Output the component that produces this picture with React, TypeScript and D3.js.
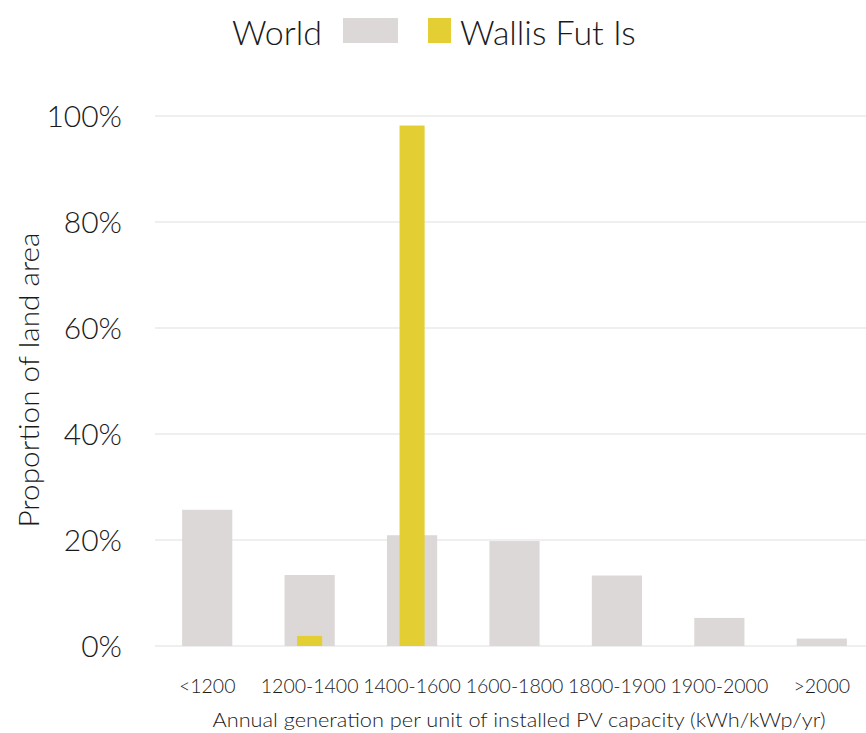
import * as d3 from "d3";
import { useEffect, useRef } from "react";

const categories = ["<1200", "1200-1400", "1400-1600", "1600-1800", "1800-1900", "1900-2000", ">2000"];
const worldValues = [25.7, 13.4, 20.9, 19.8, 13.3, 5.3, 1.4];
const wallisValues = [0, 1.9, 98.2, 0, 0, 0, 0];
const yTicks = [0, 20, 40, 60, 80, 100];

const FONT = "Lato, 'Open Sans', sans-serif";
const GREY = "#ddd8d8";
const YELLOW = "#e3cf33";
const INK = "#1a1a1a";

export default function App() {
  const ref = useRef<SVGSVGElement>(null);

  useEffect(() => {
    if (!ref.current) return;
    const svg = d3.select(ref.current);
    svg.selectAll("*").remove();

    const width = 866;

    const x = d3.scaleBand().domain(categories).range([156, 873]).paddingInner(0.51).paddingOuter(0.255);
    const y = d3.scaleLinear().domain([0, 100]).range([646, 116]);

    // gridlines
    svg.append("g")
      .selectAll("line")
      .data(yTicks)
      .enter()
      .append("line")
      .attr("x1", 155)
      .attr("x2", width)
      .attr("y1", (d) => y(d))
      .attr("y2", (d) => y(d))
      .attr("stroke", "#efefef")
      .attr("stroke-width", 2);

    // y tick labels
    svg.append("g")
      .selectAll("text")
      .data(yTicks)
      .enter()
      .append("text")
      .attr("x", 122)
      .attr("y", (d) => y(d))
      .attr("dy", "0.36em")
      .attr("text-anchor", "end")
      .style("font-family", FONT)
      .style("font-weight", 300)
      .style("font-size", "30px")
      .style("fill", INK)
      .text((d) => `${d}%`);

    // world bars
    svg.append("g")
      .selectAll("rect")
      .data(worldValues)
      .enter()
      .append("rect")
      .attr("x", (_, i) => x(categories[i])!)
      .attr("y", (d) => y(d))
      .attr("width", x.bandwidth())
      .attr("height", (d) => y(0) - y(d))
      .attr("fill", GREY);

    // wallis bars (narrower, centered)
    const inner = x.bandwidth() * 0.5;
    svg.append("g")
      .selectAll("rect")
      .data(wallisValues)
      .enter()
      .append("rect")
      .attr("x", (_, i) => x(categories[i])! + (x.bandwidth() - inner) / 2)
      .attr("y", (d) => y(d))
      .attr("width", inner)
      .attr("height", (d) => y(0) - y(d))
      .attr("fill", YELLOW);

    // x tick labels
    svg.append("g")
      .selectAll("text")
      .data(categories)
      .enter()
      .append("text")
      .attr("x", (d) => x(d)! + x.bandwidth() / 2)
      .attr("y", 693)
      .attr("text-anchor", "middle")
      .style("font-family", FONT)
      .style("font-weight", 300)
      .style("font-size", "19.5px")
      .style("fill", INK)
      .text((d) => d);

    svg.append("text")
      .attr("x", 519)
      .attr("y", 727)
      .attr("text-anchor", "middle")
      .attr("textLength", 613)
      .attr("lengthAdjust", "spacingAndGlyphs")
      .style("font-family", FONT)
      .style("font-weight", 300)
      .style("font-size", "20px")
      .style("fill", INK)
      .text("Annual generation per unit of installed PV capacity (kWh/kWp/yr)");

    svg.append("text")
      .attr("transform", "rotate(-90)")
      .attr("x", -380)
      .attr("y", 39)
      .attr("text-anchor", "middle")
      .attr("textLength", 295)
      .attr("lengthAdjust", "spacingAndGlyphs")
      .style("font-family", FONT)
      .style("font-weight", 300)
      .style("font-size", "28px")
      .style("fill", INK)
      .text("Proportion of land area");

    // legend
    const lg = svg.append("g");
    lg.append("text")
      .attr("x", 232)
      .attr("y", 45)
      .style("font-family", FONT)
      .style("font-weight", 300)
      .style("font-size", "34px")
      .style("fill", INK)
      .text("World");
    lg.append("rect").attr("x", 343).attr("y", 18).attr("width", 55).attr("height", 25).attr("fill", GREY);
    lg.append("rect").attr("x", 428).attr("y", 18).attr("width", 23).attr("height", 25).attr("fill", YELLOW);
    lg.append("text")
      .attr("x", 460)
      .attr("y", 45)
      .style("font-family", FONT)
      .style("font-weight", 300)
      .style("font-size", "34px")
      .style("fill", INK)
      .text("Wallis Fut Is");
  }, []);

  return (
    <div style={{ position: "absolute", left: 0, top: 0, width: 866, height: 733, overflow: "hidden" }}>
      <svg ref={ref} width={866} height={733} style={{ display: "block", background: "#fff" }} />
    </div>
  );
}
